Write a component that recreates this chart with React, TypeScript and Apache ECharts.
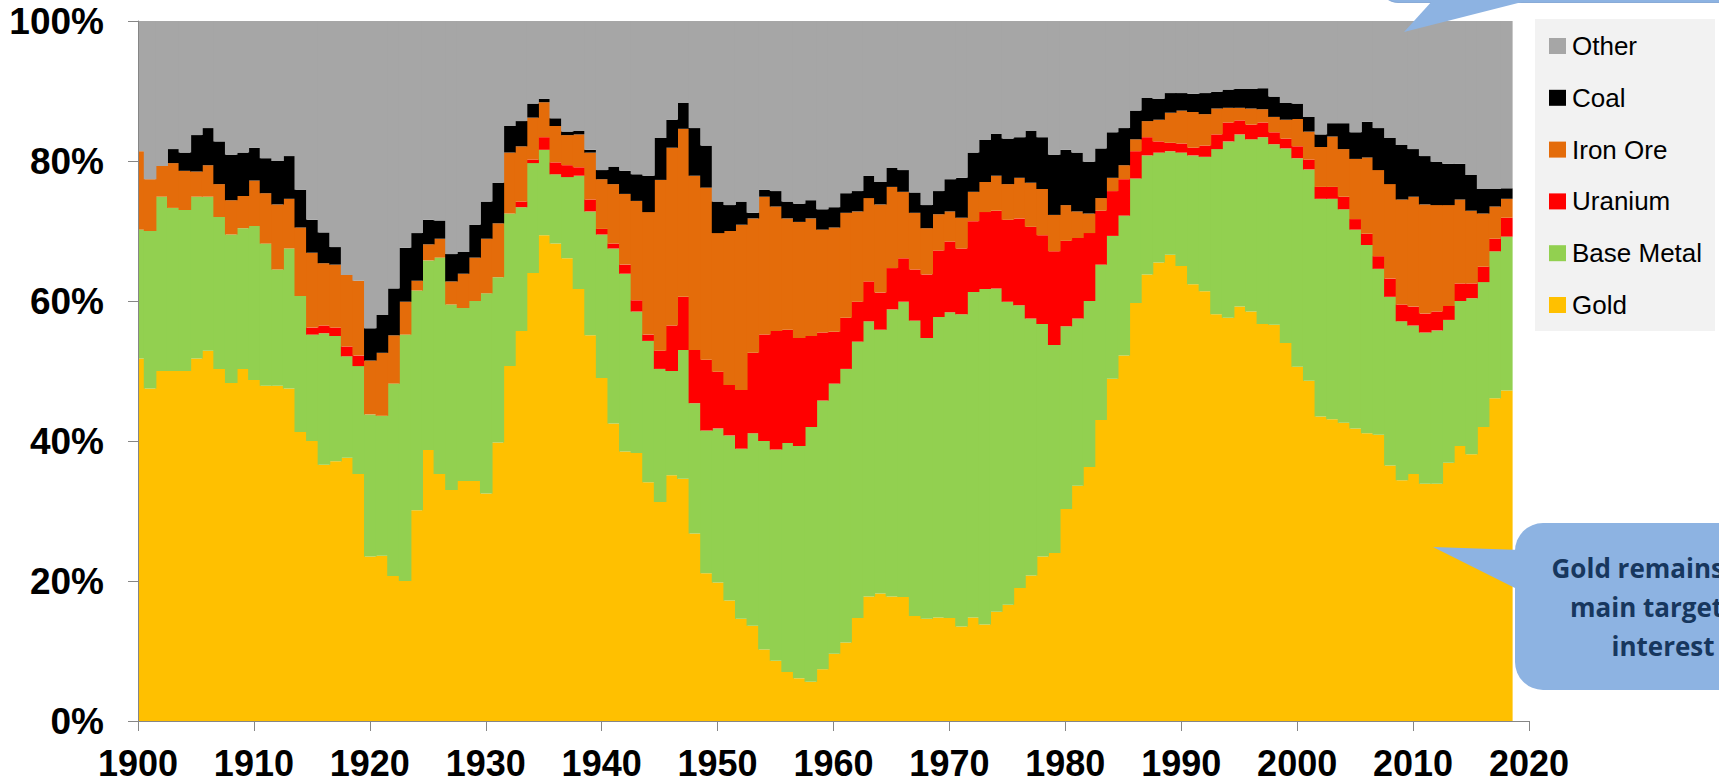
import { useEffect, useRef } from "react";
import * as echarts from "echarts";

const FIRST_YEAR = 1900;

// shares in % of each year's total (1900 .. 2018)
const gold = [
  51.8, 47.5, 50.0, 50.0, 50.0, 51.8, 52.9, 50.3, 48.3, 50.3,
  48.7, 47.9, 47.9, 47.5, 41.3, 40.0, 36.6, 37.1, 37.6, 35.3,
  23.5, 23.6, 20.7, 20.0, 30.1, 38.7, 35.3, 33.0, 34.3, 34.3,
  32.5, 39.8, 50.7, 55.7, 64.0, 69.4, 68.2, 66.1, 61.7, 55.1,
  49.0, 42.5, 38.5, 38.3, 34.1, 31.3, 35.1, 34.6, 26.8, 21.1,
  19.8, 17.2, 14.6, 13.6, 10.2, 8.6, 7.0, 6.1, 5.6, 7.4,
  9.6, 11.2, 14.7, 17.8, 18.2, 17.8, 17.7, 15.0, 14.6, 14.8,
  14.7, 13.5, 14.8, 13.8, 15.6, 16.6, 19.0, 20.8, 23.5, 24.0,
  30.3, 33.6, 36.3, 43.0, 48.9, 52.2, 59.7, 63.8, 65.5, 66.6,
  65.0, 62.4, 61.4, 58.1, 57.6, 59.2, 58.5, 56.7, 56.6, 54.0,
  50.6, 48.6, 43.5, 43.1, 42.6, 41.8, 41.1, 40.9, 36.5, 34.4,
  35.3, 33.9, 33.9, 36.9, 39.3, 38.1, 42.0, 46.1, 47.2,
];

const baseMetal = [
  18.4, 22.5, 24.9, 23.3, 23.0, 23.1, 22.0, 21.7, 21.2, 20.1,
  22.0, 20.3, 16.6, 20.0, 19.4, 15.2, 18.8, 17.9, 14.5, 15.4,
  20.3, 20.0, 27.5, 35.2, 31.4, 27.1, 30.9, 26.5, 24.7, 25.7,
  28.6, 23.6, 21.8, 17.7, 15.7, 12.2, 9.9, 11.6, 16.2, 17.7,
  20.5, 25.0, 25.4, 20.2, 20.2, 19.0, 14.9, 18.4, 18.6, 20.4,
  22.0, 23.6, 24.3, 27.5, 29.8, 30.2, 32.7, 33.2, 36.4, 38.4,
  38.6, 39.1, 39.5, 39.3, 37.7, 41.0, 42.2, 42.2, 40.1, 42.9,
  43.7, 44.6, 46.5, 47.9, 46.2, 43.3, 40.4, 36.7, 33.2, 29.7,
  26.1, 23.9, 23.7, 22.2, 20.4, 20.0, 17.8, 17.0, 15.7, 14.8,
  16.2, 18.4, 19.2, 23.6, 25.2, 24.6, 24.6, 26.7, 25.8, 27.8,
  29.8, 30.2, 31.1, 31.5, 30.5, 28.4, 26.9, 23.7, 24.1, 22.7,
  21.2, 21.6, 21.9, 20.4, 20.7, 22.3, 20.7, 21.0, 22.0,
];

const uranium = [
  0, 0, 0, 0, 0, 0, 0, 0, 0, 0,
  0, 0, 0, 0, 0, 1.0, 1.1, 1.2, 1.4, 1.5,
  0, 0, 0, 0, 0, 0, 0, 0, 0, 0,
  0, 0, 0, 0.8, 0.5, 1.8, 1.7, 1.7, 1.2, 1.7,
  0.8, 0.7, 1.3, 1.6, 0.9, 2.6, 6.5, 7.6, 7.6, 10.1,
  8.1, 7.2, 8.4, 11.5, 15.2, 16.9, 16.2, 15.4, 13.0, 9.7,
  7.4, 7.3, 5.7, 5.7, 5.3, 5.9, 6.2, 7.3, 9.1, 9.5,
  10.1, 9.4, 10.1, 11.0, 11.1, 11.7, 12.4, 13.1, 12.7, 13.4,
  12.2, 11.5, 9.7, 7.7, 6.4, 5.2, 3.9, 2.6, 1.6, 1.2,
  1.3, 1.1, 1.6, 2.1, 2.7, 2.0, 2.1, 2.1, 1.7, 1.4,
  1.7, 1.4, 1.7, 1.7, 1.8, 1.5, 1.6, 1.8, 2.6, 2.4,
  2.7, 2.7, 2.7, 2.0, 2.5, 2.1, 2.2, 1.8, 2.7,
];

const ironOre = [
  11.2, 7.4, 4.4, 6.4, 5.6, 3.6, 4.5, 4.7, 4.9, 4.6,
  6.5, 7.2, 9.3, 7.1, 9.8, 10.7, 8.9, 9.0, 10.2, 10.7,
  7.7, 9.0, 6.9, 4.7, 1.4, 2.3, 2.7, 3.3, 4.9, 6.2,
  7.8, 7.7, 8.7, 7.9, 6.0, 5.0, 5.2, 4.3, 4.7, 6.7,
  7.1, 8.5, 10.1, 14.2, 17.5, 24.4, 25.4, 24.0, 24.9, 24.6,
  19.8, 22.0, 23.6, 19.2, 19.7, 17.8, 15.9, 16.6, 16.8, 14.7,
  14.9, 15.0, 12.9, 11.9, 12.6, 11.6, 9.5, 8.1, 6.6, 5.2,
  4.3, 4.4, 4.2, 4.3, 5.0, 5.1, 5.8, 6.3, 6.6, 5.2,
  5.1, 3.8, 2.8, 1.8, 1.9, 2.0, 1.7, 2.3, 3.1, 4.3,
  4.7, 5.1, 4.5, 3.7, 2.1, 1.8, 2.3, 1.9, 2.2, 2.7,
  3.9, 4.0, 5.7, 7.2, 6.8, 8.6, 10.9, 12.3, 13.5, 15.0,
  15.7, 15.6, 15.2, 14.4, 12.0, 10.4, 7.6, 4.6, 2.7,
];

const coal = [
  0, 0, 0, 2.0, 2.6, 5.2, 5.3, 6.1, 6.5, 6.2,
  4.7, 5.0, 6.2, 6.1, 5.4, 4.7, 4.4, 2.5, 0, 0,
  4.6, 5.4, 6.7, 7.7, 6.8, 3.5, 2.6, 3.9, 3.1, 4.7,
  5.3, 5.8, 3.8, 3.6, 2.0, 0.5, 1.1, 0.5, 0.5, 0.4,
  1.3, 2.5, 3.3, 3.8, 5.2, 6.0, 4.0, 3.7, 6.8, 6.0,
  4.5, 3.7, 3.3, 0.8, 1.0, 2.2, 2.4, 2.6, 2.6, 2.9,
  2.9, 2.8, 2.9, 3.2, 3.2, 2.7, 3.1, 2.9, 3.3, 3.3,
  4.6, 5.7, 5.6, 6.0, 6.0, 6.5, 5.8, 7.4, 7.4, 8.6,
  7.9, 8.4, 7.4, 7.1, 6.5, 5.3, 4.1, 3.3, 3.0, 2.8,
  2.5, 2.6, 3.0, 2.4, 2.6, 2.7, 2.8, 3.0, 2.9, 2.4,
  2.2, 2.1, 1.8, 1.9, 3.7, 3.8, 5.1, 6.0, 6.6, 7.8,
  6.8, 6.9, 6.2, 5.9, 5.1, 5.1, 3.5, 2.5, 1.5,
];

const other = [
  18.6, 22.6, 20.7, 18.3, 18.8, 16.3, 15.3, 17.2, 19.1, 18.8,
  18.1, 19.6, 20.0, 19.3, 24.1, 28.4, 30.2, 32.3, 36.3, 37.1,
  43.9, 42.0, 38.2, 32.4, 30.3, 28.4, 28.5, 33.3, 33.0, 29.1,
  25.8, 23.1, 15.0, 14.3, 11.8, 11.1, 13.9, 15.8, 15.7, 18.4,
  21.3, 20.8, 21.4, 21.9, 22.1, 16.7, 14.1, 11.7, 15.3, 17.8,
  25.8, 26.3, 25.8, 27.4, 24.1, 24.3, 25.8, 26.1, 25.6, 26.9,
  26.6, 24.6, 24.3, 22.1, 23.0, 21.0, 21.3, 24.5, 26.3, 24.3,
  22.6, 22.4, 18.8, 17.0, 16.1, 16.8, 16.6, 15.7, 16.6, 19.1,
  18.4, 18.8, 20.1, 18.2, 15.9, 15.3, 12.8, 11.0, 11.1, 10.3,
  10.3, 10.4, 10.3, 10.1, 9.8, 9.7, 9.7, 9.6, 10.8, 11.7,
  11.8, 13.7, 16.2, 14.6, 14.6, 15.9, 14.4, 15.3, 16.7, 17.7,
  18.3, 19.3, 20.1, 20.4, 20.4, 22.0, 24.0, 24.0, 23.9,
];

const years = gold.map((_, i) => FIRST_YEAR + i);

const stackOrder = [
  { name: "Gold", color: "#FFC000", values: gold },
  { name: "Base Metal", color: "#92D050", values: baseMetal },
  { name: "Uranium", color: "#FF0000", values: uranium },
  { name: "Iron Ore", color: "#E46C0A", values: ironOre },
  { name: "Coal", color: "#000000", values: coal },
  { name: "Other", color: "#A6A6A6", values: other },
];

const legendOrder = ["Other", "Coal", "Iron Ore", "Uranium", "Base Metal", "Gold"];

const calloutLines = ["Gold remains the", "main target of", "interest"];

const W = 1719;
const H = 783;
const GRID = { left: 138, right: 190, top: 21, bottom: 62 };
const X_MIN = 1900;
const X_MAX = 2020;
const AXIS_COLOR = "#868686";
const CALLOUT = "#8DB3E2";

// cumulative [year, lower, upper] per commodity (stacked by year)
function buildStacks() {
  const running = years.map(() => 0);
  return stackOrder.map((s) =>
    years.map((y, i) => {
      const lo = running[i];
      const hi = lo + s.values[i];
      running[i] = hi;
      return [y, lo, hi, s.values[i]];
    })
  );
}

export default function App() {
  const ref = useRef<HTMLDivElement>(null);

  useEffect(() => {
    if (!ref.current) return;
    const chart = echarts.init(ref.current, undefined, { renderer: "svg" });
    const stacks = buildStacks();

    const labelFont = {
      fontFamily: "Liberation Sans, Arial, sans-serif",
      fontWeight: "bold" as const,
      color: "#000",
    };

    chart.setOption({
      animation: false,
      backgroundColor: "#ffffff",
      grid: { ...GRID, containLabel: false },
      xAxis: {
        type: "value",
        min: X_MIN,
        max: X_MAX,
        interval: 10,
        z: 10,
        axisLine: { show: true, lineStyle: { color: AXIS_COLOR, width: 1 } },
        axisTick: { show: true, length: 10, lineStyle: { color: AXIS_COLOR } },
        splitLine: { show: false },
        axisLabel: {
          ...labelFont,
          fontSize: 36,
          margin: 24,
          formatter: (v: number) => String(v),
        },
      },
      yAxis: {
        type: "value",
        min: 0,
        max: 100,
        interval: 20,
        z: 10,
        axisLine: { show: true, lineStyle: { color: AXIS_COLOR, width: 1 } },
        axisTick: { show: true, length: 10, lineStyle: { color: AXIS_COLOR } },
        splitLine: { show: false },
        axisLabel: { ...labelFont, fontSize: 37, margin: 34, formatter: "{value}%" },
      },
      legend: {
        orient: "vertical",
        left: 1549,
        top: 33,
        padding: 0,
        itemWidth: 17,
        itemHeight: 16,
        itemGap: 25.8,
        icon: "rect",
        z: 10,
        data: legendOrder,
        selectedMode: false,
        textStyle: {
          fontFamily: "Liberation Sans, Arial, sans-serif",
          fontSize: 26,
          lineHeight: 26,
          color: "#000",
          padding: [0, 0, 0, 1],
        },
      },
      graphic: [
        {
          type: "rect",
          z: 1,
          shape: { x: 1535, y: 19, width: 180, height: 312 },
          style: { fill: "#F2F2F2" },
          silent: true,
        },
        {
          type: "rect",
          z: 100,
          shape: { x: 1380, y: -60, width: 420, height: 62.5, r: 18 },
          style: { fill: CALLOUT, stroke: "#7A9FD0", lineWidth: 0.8 },
          silent: true,
        },
        {
          type: "polygon",
          z: 101,
          shape: { points: [[1404, 32], [1433, 0], [1530, 0]] },
          style: { fill: CALLOUT },
          silent: true,
        },
        {
          type: "rect",
          z: 100,
          shape: { x: 1515, y: 523, width: 320, height: 167, r: 28 },
          style: { fill: CALLOUT },
          silent: true,
        },
        {
          type: "polygon",
          z: 101,
          shape: { points: [[1433, 547], [1521, 550], [1521, 591]] },
          style: { fill: CALLOUT },
          silent: true,
        },
        {
          type: "text",
          z: 102,
          x: 1663,
          y: 607,
          silent: true,
          style: {
            text: calloutLines.join("\n"),
            fill: "#17375E",
            font: "bold 26px 'Open Sans', sans-serif",
            lineHeight: 39,
            align: "center",
            verticalAlign: "middle",
          },
        },
      ],
      series: stackOrder.map((s, k) => ({
        name: s.name,
        type: "custom",
        itemStyle: { color: s.color },
        emphasis: { disabled: true },
        encode: { x: 0, y: [1, 2] },
        data: stacks[k],
        renderItem: (params: any, api: any) => {
          const year = api.value(0);
          const lo = api.value(1);
          const hi = api.value(2);
          if (hi - lo <= 0) return null;
          const p0 = api.coord([year - 0.5, hi]);
          const p1 = api.coord([year + 0.5, lo]);
          const cs = params.coordSys;
          const rect = echarts.graphic.clipRectByRect(
            { x: p0[0], y: p0[1], width: p1[0] - p0[0] + 1, height: p1[1] - p0[1] },
            { x: cs.x, y: cs.y, width: cs.width, height: cs.height }
          );
          if (!rect) return null;
          return { type: "rect", shape: rect, style: { fill: s.color } };
        },
      })),
    });

    return () => chart.dispose();
  }, []);

  return (
    <div
      ref={ref}
      style={{ position: "fixed", left: 0, top: 0, width: W, height: H }}
    />
  );
}
